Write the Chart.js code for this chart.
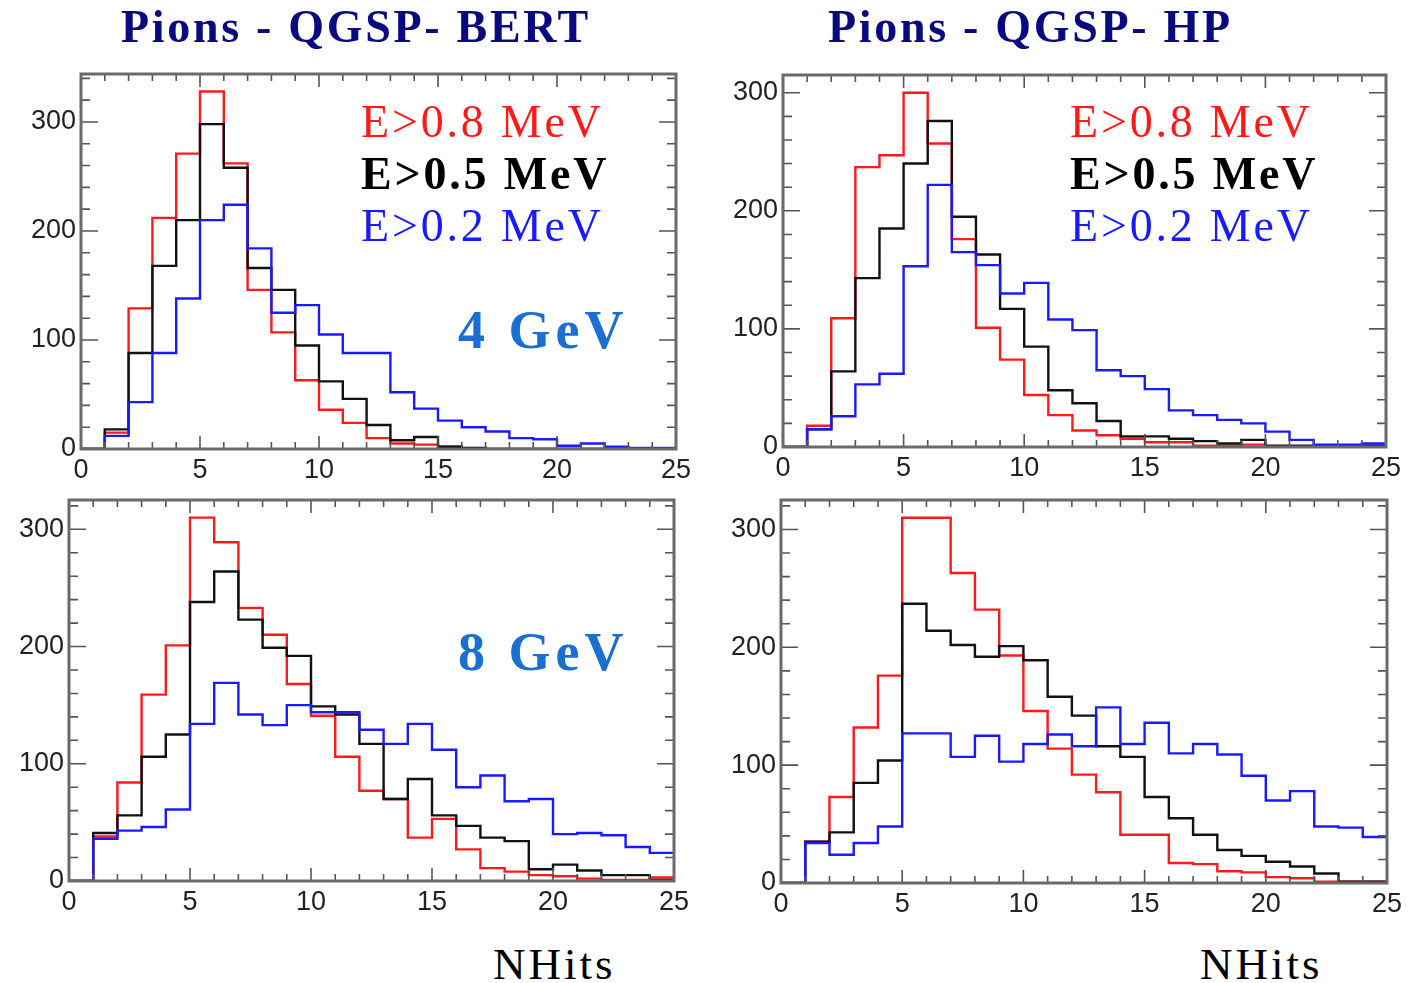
<!DOCTYPE html>
<html lang="en">

<head>
    <meta charset="UTF-8">
    <title>Pions NHits</title>
    <script src="https://cdn.jsdelivr.net/npm/chart.js"></script>
    <style>
        body {
            margin: 0;
            background: #fff;
        }

        #page {
            position: relative;
            width: 1408px;
            height: 983px;
            overflow: hidden;
            background: #fff;
        }

        canvas {
            position: absolute;
        }

        .txt {
            position: absolute;
            font-family: "Liberation Serif", "Times New Roman", serif;
            line-height: 1;
            white-space: nowrap;
            z-index: 5;
        }
    </style>
</head>

<body>
    <div id="page">
        <canvas id="c1" width="700" height="460" style="left:0px;top:40px"></canvas>
        <canvas id="c2" width="708" height="460" style="left:700px;top:40px"></canvas>
        <canvas id="c3" width="700" height="460" style="left:0px;top:470px"></canvas>
        <canvas id="c4" width="708" height="460" style="left:700px;top:470px"></canvas>
    </div>
</body>

</html>

<script>
    // bin edges (NHits), 25 bins of width 1
    const binEdges = [0, 1, 2, 3, 4, 5, 6, 7, 8, 9, 10, 11, 12, 13, 14, 15, 16, 17, 18, 19, 20, 21, 22, 23, 24, 25];
    const xTickLabels = [0, 5, 10, 15, 20, 25];
    const yTickLabels = [0, 100, 200, 300];

    // QGSP-BERT, 4 GeV
    const bert4Red = [0, 15, 129, 212, 271, 328, 262, 146, 107, 63, 36, 24, 10, 5, 4, 2, 0, 0, 0, 0, 0, 0, 0, 0, 0];
    const bert4Black = [0, 18, 88, 168, 210, 298, 258, 166, 146, 95, 62, 46, 22, 8, 11, 2, 1, 0, 0, 0, 0, 0, 0, 0, 0];
    const bert4Blue = [0, 12, 43, 88, 138, 210, 224, 184, 125, 132, 105, 88, 88, 52, 37, 26, 20, 16, 10, 9, 3, 5, 2, 1, 1];

    // QGSP-HP, 4 GeV
    const hp4Red = [0, 18, 109, 237, 247, 300, 257, 176, 101, 74, 44, 27, 14, 10, 7, 4, 4, 1, 1, 2, 0, 0, 0, 0, 0];
    const hp4Black = [0, 15, 64, 143, 185, 240, 276, 195, 163, 117, 85, 48, 37, 22, 9, 9, 7, 5, 3, 6, 1, 1, 1, 1, 1];
    const hp4Blue = [0, 15, 26, 53, 62, 153, 222, 165, 154, 130, 139, 108, 99, 65, 60, 49, 31, 27, 23, 20, 13, 6, 2, 2, 3];

    // QGSP-BERT, 8 GeV
    const bert8Red = [0, 38, 84, 159, 201, 310, 289, 233, 210, 168, 141, 106, 77, 70, 37, 53, 27, 11, 8, 5, 4, 2, 1, 1, 3];
    const bert8Black = [0, 41, 56, 106, 125, 238, 264, 223, 199, 192, 149, 142, 117, 70, 87, 56, 47, 37, 34, 10, 14, 9, 5, 5, 1];
    const bert8Blue = [0, 36, 43, 46, 61, 134, 169, 142, 133, 150, 144, 144, 129, 117, 134, 112, 80, 90, 68, 70, 40, 41, 39, 29, 24];

    // QGSP-HP, 8 GeV
    const hp8Red = [0, 35, 73, 132, 176, 310, 310, 263, 232, 193, 146, 114, 92, 77, 41, 41, 17, 16, 10, 9, 5, 4, 1, 1, 1];
    const hp8Black = [0, 35, 43, 85, 104, 237, 214, 202, 192, 201, 189, 158, 142, 116, 107, 73, 55, 41, 28, 23, 18, 14, 8, 1, 1];
    const hp8Blue = [0, 34, 24, 34, 48, 127, 127, 107, 125, 103, 118, 126, 116, 149, 118, 136, 110, 118, 109, 91, 70, 78, 48, 47, 39];

    const legendLabels = ['E>0.8 MeV', 'E>0.5 MeV', 'E>0.2 MeV'];
    const corRed = '#ff1a1a';
    const corBlack = '#111111';
    const corBlue = '#1a1aff';

    // histogram -> points for a stepped line
    function toSteps(values) {
        const pts = [];
        for (let i = 0; i < values.length; i++) {
            pts.push({ x: binEdges[i], y: values[i] });
        }
        pts.push({ x: binEdges[binEdges.length - 1], y: values[values.length - 1] });
        return pts;
    }

    // ROOT style frame with ticks pointing inwards
    const frameTicks = {
        id: 'frameTicks',
        afterDraw(chart) {
            const ctx = chart.ctx;
            const a = chart.chartArea;
            const x = chart.scales.x;
            const y = chart.scales.y;
            ctx.save();
            ctx.strokeStyle = '#555';
            ctx.lineWidth = 1.6;
            ctx.beginPath();
            for (let v = x.min; v <= x.max; v += 1) {
                const px = x.getPixelForValue(v);
                const len = v % 5 === 0 ? 13 : 7;
                ctx.moveTo(px, a.bottom); ctx.lineTo(px, a.bottom - len);
                ctx.moveTo(px, a.top); ctx.lineTo(px, a.top + len);
            }
            for (let v = 0; v <= y.max; v += 20) {
                const py = y.getPixelForValue(v);
                const len = v % 100 === 0 ? 17 : 9;
                ctx.moveTo(a.left, py); ctx.lineTo(a.left + len, py);
                ctx.moveTo(a.right, py); ctx.lineTo(a.right - len, py);
            }
            ctx.stroke();
            ctx.strokeStyle = '#6a6a6a';
            ctx.lineWidth = 3;
            ctx.strokeRect(a.left, a.top, a.right - a.left, a.bottom - a.top);
            ctx.restore();
        }
    };

    function desenharPainel(id, red, black, blue, yMax, box) {
        const ctx = document.getElementById(id);
        const ds = (data, cor) => ({
            data: toSteps(data),
            borderColor: cor,
            borderWidth: 2.4,
            stepped: 'before',
            pointRadius: 0,
            fill: false
        });
        new Chart(ctx, {
            type: 'line',
            data: {
                // blue on top, red underneath
                datasets: [ds(blue, corBlue), ds(black, corBlack), ds(red, corRed)]
            },
            options: {
                responsive: false,
                animation: false,
                devicePixelRatio: 1,
                layout: { padding: { top: box.top, right: box.right, left: 0, bottom: 0 } },
                plugins: { legend: { display: false }, tooltip: { enabled: false } },
                scales: {
                    x: {
                        type: 'linear',
                        min: binEdges[0],
                        max: binEdges[binEdges.length - 1],
                        afterBuildTicks: (s) => { s.ticks = xTickLabels.map(v => ({ value: v })); },
                        afterFit: (s) => { s.height = box.xh; },
                        grid: { display: false, drawTicks: false },
                        border: { display: false },
                        ticks: {
                            padding: 5,
                            maxRotation: 0,
                            color: '#222',
                            font: { family: '"Liberation Sans", Arial, sans-serif', size: 27 }
                        }
                    },
                    y: {
                        min: 0,
                        max: yMax,
                        afterBuildTicks: (s) => { s.ticks = yTickLabels.map(v => ({ value: v })); },
                        afterFit: (s) => { s.width = box.yw; },
                        grid: { display: false, drawTicks: false },
                        border: { display: false },
                        ticks: {
                            padding: 5,
                            color: '#222',
                            font: { family: '"Liberation Sans", Arial, sans-serif', size: 27 }
                        }
                    }
                }
            },
            plugins: [frameTicks]
        });
    }

    desenharPainel('c1', bert4Red, bert4Black, bert4Blue, 344, { top: 34, right: 24, xh: 51, yw: 81 });
    desenharPainel('c2', hp4Red, hp4Black, hp4Blue, 315, { top: 35, right: 22, xh: 53, yw: 83 });
    desenharPainel('c3', bert8Red, bert8Black, bert8Blue, 325, { top: 30, right: 26, xh: 49, yw: 69 });
    desenharPainel('c4', hp8Red, hp8Black, hp8Blue, 325, { top: 30, right: 21, xh: 47, yw: 81 });

    // texts: baseline placed at y (Liberation Serif, line-height 1)
    const page = document.getElementById('page');
    function texto(t, left, baseline, size, cor, bold, spacing) {
        const d = document.createElement('div');
        d.className = 'txt';
        d.textContent = t;
        d.style.left = left + 'px';
        d.style.top = (baseline - 0.8375 * size) + 'px';
        d.style.fontSize = size + 'px';
        d.style.color = cor;
        d.style.fontWeight = bold ? 'bold' : 'normal';
        d.style.letterSpacing = (spacing || 0) + 'px';
        page.appendChild(d);
    }

    texto('Pions - QGSP- BERT', 121, 43, 46, '#0a0a80', true, 2.7);
    texto('Pions - QGSP- HP', 828, 43, 46, '#0a0a80', true, 2.7);

    const legendCores = [corRed, '#000', corBlue];
    const legendBase = [138, 190, 242];
    for (let i = 0; i < legendLabels.length; i++) {
        texto(legendLabels[i], 361, legendBase[i], 46, legendCores[i], i === 1, 2.8);
        texto(legendLabels[i], 1070, legendBase[i], 46, legendCores[i], i === 1, 2.8);
    }

    texto('4 GeV', 458, 348, 54, '#1a6fd0', true, 5);
    texto('8 GeV', 458, 670, 54, '#1a6fd0', true, 5);

    texto('NHits', 493, 980, 45, '#000', false, 3);
    texto('NHits', 1200, 980, 45, '#000', false, 3);
</script>
